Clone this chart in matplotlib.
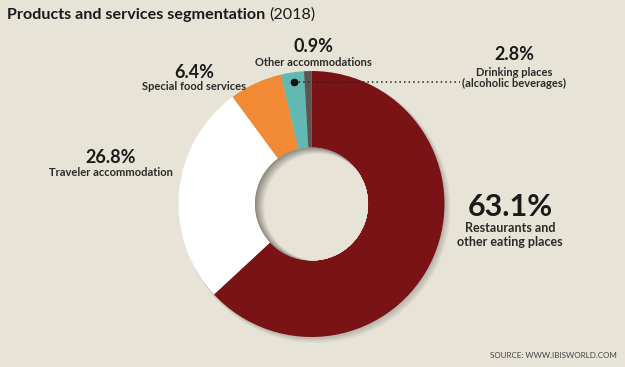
import matplotlib
matplotlib.use("Agg")
import matplotlib.pyplot as plt
import numpy as np
from matplotlib.patches import Circle

# ---- data ----
segments = ["Restaurants and\nother eating places", "Traveler accommodation",
            "Special food services", "Drinking places\n(alcoholic beverages)",
            "Other accommodations"]
shares = [63.1, 26.8, 6.4, 2.8, 0.9]
colors = ["#7a1315", "#ffffff", "#f28a35", "#62b9b1", "#5b5553"]
title_bold = "Products and services segmentation"
title_year = "(2018)"
source = "SOURCE: WWW.IBISWORLD.COM"

W, H = 625, 367
BG = "#e8e3d7"
FONT = "Lato"

fig = plt.figure(figsize=(W / 100, H / 100), dpi=100, facecolor=BG)

def px(x, y):
    return x / W, 1 - y / H

# pie axes: center (311.5, 204) px, radius 133 px
cx, cy, R = 311.5, 204, 133
m = 1.05
ax = fig.add_axes([(cx - R * m) / W, (H - cy - R * m) / H, 2 * R * m / W, 2 * R * m / H])
ax.set_facecolor("none")

hole = 0.425
wedges, _ = ax.pie(shares, colors=colors, startangle=90, counterclock=False,
                   radius=1.0, wedgeprops=dict(width=1 - hole, linewidth=0),
                   frame=False)
ax.set_xlim(-m, m)
ax.set_ylim(-m, m)
ax.set_aspect("equal")
ax.axis("off")

# outer soft shadow (right / bottom)
for i in range(6):
    ax.add_patch(Circle((0.010 + i * 0.004, -0.010 - i * 0.004), 1.0 + i * 0.003,
                        color="#000000", alpha=0.03, zorder=0, lw=0))

# inner hole with inner shadow (upper-left)
clip = Circle((0, 0), hole, transform=ax.transData)
ax.add_patch(Circle((0, 0), hole, color="#8f8b82", lw=0, zorder=3))
n = 14
c0 = np.array(matplotlib.colors.to_rgb("#8f8b82"))
c1 = np.array(matplotlib.colors.to_rgb(BG))
for i in range(n):
    t = (i + 1) / n
    col = c0 * (1 - t) + c1 * t
    r = hole - 0.0016 * (i + 1)
    off = 0.0035 * (i + 1)
    c = Circle((off, -off * 0.5), r, color=col, lw=0, zorder=3 + i * 0.01)
    ax.add_patch(c)
    c.set_clip_path(clip)

# dot on the drinking places wedge + dotted leader line
w = wedges[3]
ang = np.deg2rad((w.theta1 + w.theta2) / 2)
rd = 0.925
dx, dy = rd * np.cos(ang), rd * np.sin(ang)
ax.plot([dx], [dy], "o", color="#111111", ms=4.5, zorder=10, clip_on=False)
fig.canvas.draw()
dot_disp = ax.transData.transform((dx, dy))
end_disp_x = fig.transFigure.transform(px(460, 0))[0]
end_data = ax.transData.inverted().transform((end_disp_x, dot_disp[1]))
ax.plot([dx, end_data[0]], [dy, dy], color="#222222", lw=1.1,
        linestyle=(0, (1, 2)), zorder=10, clip_on=False)

# ---- texts ----
TXT = "#1a1a1a"
t1 = fig.text(*px(7, 15), title_bold, fontsize=11.6, fontweight="bold", family=FONT,
              color=TXT, va="center", ha="left")
fig.canvas.draw()
r = t1.get_window_extent()
fig.text(r.x1 / W + 4 / W, px(0, 15)[1], title_year, fontsize=11.6, family=FONT,
         color=TXT, va="center", ha="left")

def label(x, y, pct, name, big=13, small=8, gap=15, lgap=11):
    fig.text(*px(x, y), pct, fontsize=big, fontweight="bold", family=FONT,
             color=TXT, ha="center", va="center")
    for k, line in enumerate(name.split("\n")):
        fig.text(*px(x, y + gap + k * lgap), line, fontsize=small, fontweight="bold",
                 family=FONT, color="#2a2a2a", ha="center", va="center")

label(510, 207, f"{shares[0]}%", segments[0], big=22, small=9, gap=21, lgap=14)
label(111, 158, f"{shares[1]}%", segments[1], gap=15)
label(194, 72, f"{shares[2]}%", segments[2], gap=14)
label(514, 55, f"{shares[3]}%", segments[3], gap=17, lgap=11)
label(313, 46, f"{shares[4]}%", segments[4], gap=16)

fig.text(*px(617, 356), source, fontsize=5.8, family=FONT, color="#444444",
         ha="right", va="center")

fig.savefig("out.png", dpi=100, facecolor=BG)
